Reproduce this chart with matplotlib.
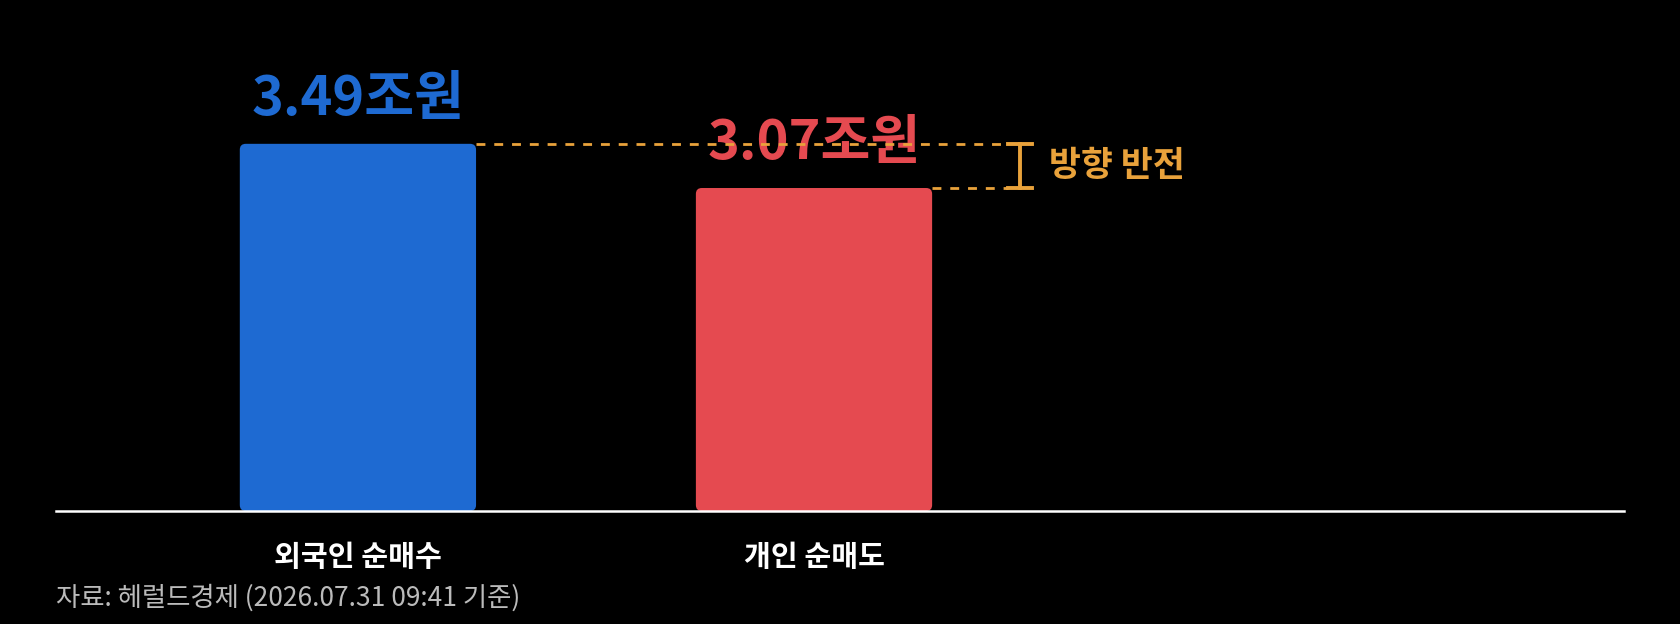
import numpy as np
import matplotlib.pyplot as plt
from matplotlib.patches import FancyBboxPatch

plt.rcParams['font.family'] = ['Noto Sans CJK KR', 'DejaVu Sans']

# data
categories = ['외국인 순매수', '개인 순매도']
values = [3.49, 3.07]
value_labels = ['3.49조원', '3.07조원']
bar_colors = ['#1E6AD2', '#E54A50']
gap_label = '방향 반전'
source = '자료: 헤럴드경제 (2026.07.31 09:41 기준)'

orange = '#E9A23B'
W, H = 1680, 624

fig = plt.figure(figsize=(W / 100, H / 100), dpi=100, facecolor='black')
ax = fig.add_axes([56 / W, 113 / H, 1568 / W, 511 / H])
ax.set_facecolor('black')

x = np.arange(len(categories))
width = 0.518
bars = ax.bar(x, values, width=width, color=bar_colors, zorder=2)
ax.set_xlim(-0.662, 2.776)
ax.set_ylim(0, 4.857)

# swap plain bars for rounded ones
for b in bars:
    b.set_visible(False)
    rb = FancyBboxPatch((b.get_x(), b.get_y()), b.get_width(), b.get_height(),
                        boxstyle='round,pad=0,rounding_size=0.013',
                        mutation_aspect=4.34, fc=b.get_facecolor(),
                        ec='none', zorder=2)
    ax.add_patch(rb)

ax.axhline(0, color='white', lw=1.8, zorder=4, clip_on=False)

# value labels
for xi, v, lbl, c in zip(x, values, value_labels, bar_colors):
    ax.annotate(lbl, (xi, v), xytext=(0, 12), textcoords='offset points',
                ha='center', va='bottom', fontsize=39, fontweight='bold',
                color=c, zorder=3)

# gap marker
dash_end = 1.425
bx = 1.452
cap = 0.026
for xi, v in zip(x, values):
    ax.plot([xi + width / 2, dash_end], [v, v], color=orange, lw=2,
            ls=(0, (3.2, 3.2)), zorder=5)
ax.plot([bx, bx], [values[1], values[0]], color=orange, lw=2.8, zorder=5)
for v in values:
    ax.plot([bx - cap, bx + cap], [v, v], color=orange, lw=2.8, zorder=5)
ax.text(1.515, (values[0] + values[1]) / 2, gap_label, va='center', ha='left',
        fontsize=25, fontweight='bold', color=orange)

ax.set_xticks(x, categories)
ax.tick_params(axis='x', length=0, pad=22, labelcolor='white', labelsize=21)
for t in ax.get_xticklabels():
    t.set_fontweight('bold')
ax.set_yticks([])
for s in ax.spines.values():
    s.set_visible(False)

fig.text(56 / W, 1 - 598 / H, source, va='center', ha='left', fontsize=19,
         color='#BBBBBB')

fig.savefig('out.png', dpi=100, facecolor='black')
